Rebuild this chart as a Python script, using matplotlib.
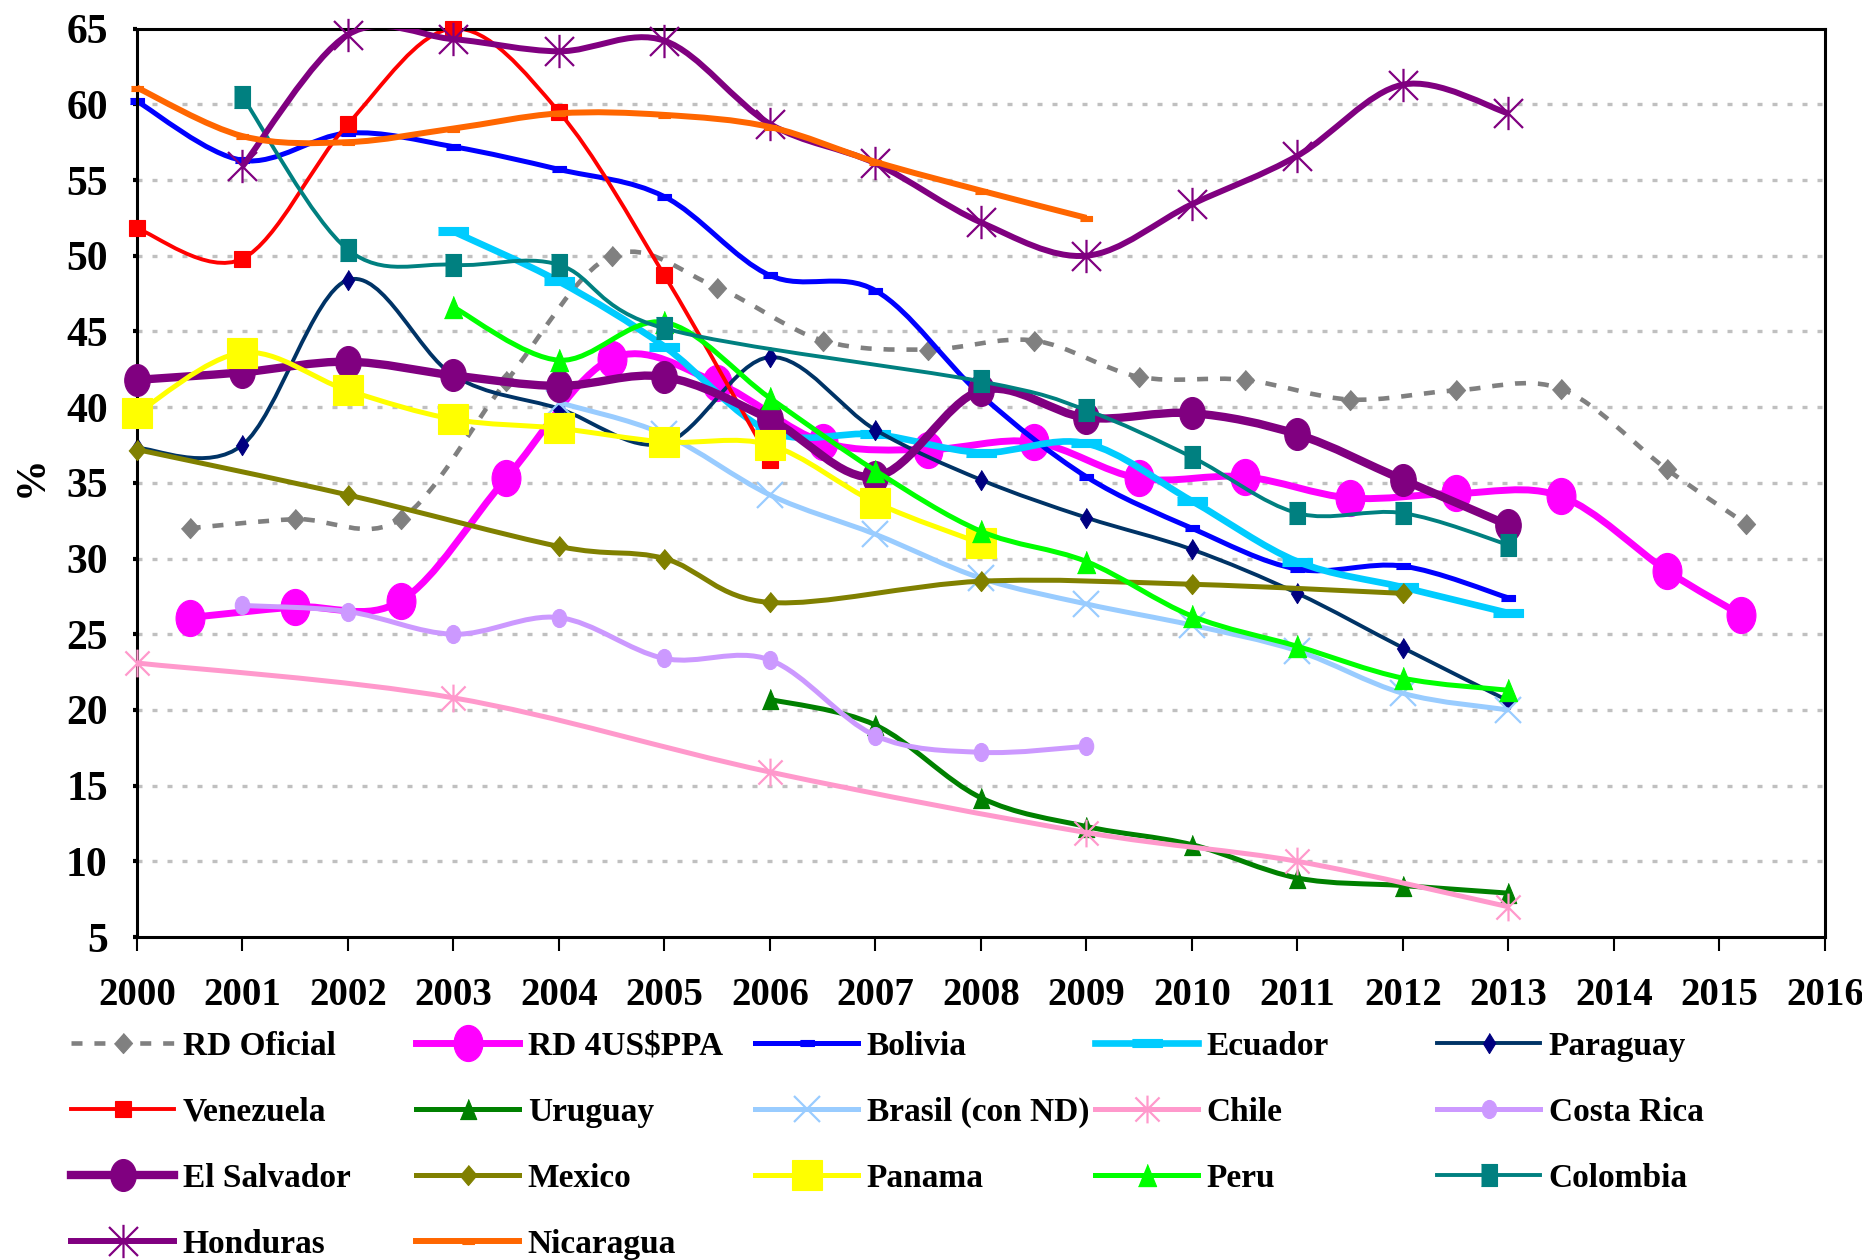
import numpy as np
import matplotlib
matplotlib.use("Agg")
import matplotlib.pyplot as plt
from matplotlib.path import Path
from matplotlib.patches import PathPatch
from matplotlib.lines import Line2D
from matplotlib.transforms import Affine2D

plt.rcParams['font.family'] = ['Liberation Serif', 'DejaVu Serif']
plt.rcParams['font.weight'] = 'bold'

# ---- data (% of population) ----
years_rd = [2000.5, 2001.5, 2002.5, 2003.5, 2004.5, 2005.5, 2006.5, 2007.5,
            2008.5, 2009.5, 2010.5, 2011.5, 2012.5, 2013.5, 2014.5, 2015.25]
rd_oficial = [32.0, 32.6, 32.6, 41.7, 50.0, 47.9, 44.4, 43.8,
              44.4, 42.0, 41.8, 40.5, 41.1, 41.2, 35.9, 32.3]
years_rd_ppa = [2000.5, 2001.5, 2002.5, 2003.5, 2004.5, 2005.5, 2006.5, 2007.5,
                2008.5, 2009.5, 2010.5, 2011.5, 2012.5, 2013.5, 2014.5, 2015.2]
rd_ppa = [26.1, 26.8, 27.2, 35.3, 43.2, 41.6, 37.7, 37.2,
          37.7, 35.3, 35.4, 34.0, 34.3, 34.1, 29.2, 26.3]
years_bolivia = list(range(2000, 2014))
bolivia = [60.2, 56.3, 58.1, 57.2, 55.7, 53.9, 48.7, 47.7, 40.8, 35.4, 32.0, 29.3, 29.5, 27.4]
years_ecuador = list(range(2003, 2014))
ecuador = [51.6, 48.3, 44.0, 38.4, 38.2, 37.0, 37.6, 33.8, 29.8, 28.1, 26.4]
years_paraguay = list(range(2000, 2014))
paraguay = [37.3, 37.5, 48.4, 42.1, 39.9, 37.6, 43.3, 38.5, 35.2, 32.7, 30.6, 27.7, 24.1, 20.6]
years_venezuela = list(range(2000, 2007))
venezuela = [51.8, 49.8, 58.7, 65.0, 59.5, 48.7, 36.5]
years_uruguay = list(range(2006, 2014))
uruguay = [20.7, 19.0, 14.2, 12.3, 11.1, 8.9, 8.4, 7.9]
years_brasil = list(range(2004, 2014))
brasil = [40.3, 38.2, 34.2, 31.6, 28.7, 27.0, 25.6, 23.9, 21.1, 20.0]
years_chile = [2000, 2003, 2006, 2009, 2011, 2013]
chile = [23.1, 20.8, 15.9, 11.9, 10.0, 7.0]
years_costa_rica = list(range(2001, 2010))
costa_rica = [26.9, 26.5, 25.0, 26.1, 23.4, 23.3, 18.3, 17.2, 17.6]
years_el_salvador = list(range(2000, 2014))
el_salvador = [41.8, 42.3, 43.0, 42.1, 41.4, 42.0, 39.2, 35.4, 41.1, 39.3, 39.6, 38.2, 35.2, 32.2]
years_mexico = [2000, 2002, 2004, 2005, 2006, 2008, 2010, 2012]
mexico = [37.2, 34.2, 30.8, 30.0, 27.1, 28.5, 28.3, 27.7]
years_panama = list(range(2000, 2009))
panama = [39.6, 43.6, 41.1, 39.2, 38.6, 37.7, 37.5, 33.7, 31.0]
years_peru = list(range(2003, 2014))
peru = [46.6, 43.1, 45.6, 40.6, 35.8, 31.8, 29.8, 26.2, 24.2, 22.1, 21.3]
years_colombia = [2001, 2002, 2003, 2004, 2005, 2008, 2009, 2010, 2011, 2012, 2013]
colombia = [60.5, 50.4, 49.4, 49.4, 45.2, 41.7, 39.8, 36.7, 33.0, 33.0, 30.9]
years_honduras = list(range(2001, 2014))
honduras = [55.9, 64.6, 64.3, 63.5, 64.2, 58.7, 56.1, 52.2, 50.0, 53.4, 56.6, 61.3, 59.4]
years_nicaragua = list(range(2000, 2010))
nicaragua = [61.1, 57.9, 57.5, 58.4, 59.4, 59.3, 58.5, 56.2, 54.3, 52.5]

# ---- marker shapes (the original chart is a bit squeezed horizontally) ----
star = Path([(-1, -1), (1, 1), (-1, 1), (1, -1), (0, -1.15), (0, 1.15)],
            [Path.MOVETO, Path.LINETO] * 3)
ellipse = Path.unit_circle().transformed(Affine2D().scale(0.8, 1.0))
tall_rect = [(-0.73, -1), (0.73, -1), (0.73, 1), (-0.73, 1)]
def diamond(w):
    return [(0, 1), (w, 0), (0, -1), (-w, 0)]
def dash(h):
    return [(-1, -h), (1, -h), (1, h), (-1, h)]
tri = [(0, 1), (0.82, -1), (-0.82, -1)]

# label, x, y, colour, line width, marker, marker size, extra
series = [
    ("RD Oficial", years_rd, rd_oficial, "#808080", 3.3, diamond(0.9), 14.5, {"ls": (0, (2.4, 2.6))}),
    ("RD 4US$PPA", years_rd_ppa, rd_ppa, "#FF00FF", 5.0, ellipse, 26, {}),
    ("Bolivia", years_bolivia, bolivia, "#0000FF", 3.6, dash(0.4), 10, {}),
    ("Ecuador", years_ecuador, ecuador, "#00CCFF", 4.8, dash(0.26), 22, {}),
    ("Paraguay", years_paraguay, paraguay, "#003366", 2.8, diamond(0.62), 14.5, {"mc": "#000080"}),
    ("Venezuela", years_venezuela, venezuela, "#FF0000", 2.8, "s", 12, {}),
    ("Uruguay", years_uruguay, uruguay, "#008000", 3.6, tri, 14.5, {}),
    ("Brasil (con ND)", years_brasil, brasil, "#99CCFF", 3.6, "x", 19, {"open": True}),
    ("Chile", years_chile, chile, "#FF99CC", 3.6, star, 20, {"open": True}),
    ("Costa Rica", years_costa_rica, costa_rica, "#CC99FF", 3.6, ellipse, 13, {}),
    ("El Salvador", years_el_salvador, el_salvador, "#800080", 6.0, ellipse, 23, {}),
    ("Mexico", years_mexico, mexico, "#808000", 3.6, diamond(0.85), 14.5, {}),
    ("Panama", years_panama, panama, "#FFFF00", 3.6, "s", 21, {}),
    ("Peru", years_peru, peru, "#00FF00", 3.6, tri, 16, {}),
    ("Colombia", years_colombia, colombia, "#008080", 2.8, tall_rect, 16, {}),
    ("Honduras", years_honduras, honduras, "#800080", 4.3, star, 24, {"open": True}),
    ("Nicaragua", years_nicaragua, nicaragua, "#FF6600", 4.3, dash(0.45), 8, {}),
]


def smooth_path(x, y):
    # excel style smoothed line: cubic bezier through every data point
    pts = np.column_stack([x, y]).astype(float)
    n = len(pts)
    verts = [pts[0]]
    codes = [Path.MOVETO]
    for i in range(n - 1):
        p0 = pts[i - 1] if i > 0 else pts[i]
        p1 = pts[i]
        p2 = pts[i + 1]
        p3 = pts[i + 2] if i + 2 < n else pts[i + 1]
        verts += [p1 + (p2 - p0) / 6.0, p2 - (p3 - p1) / 6.0, p2]
        codes += [Path.CURVE4] * 3
    return Path(verts, codes)


fig = plt.figure(figsize=(18.62, 12.6), dpi=100)
ax = fig.add_axes([0.0639, 0.2563, 0.9162, 0.7210])

yticks = np.arange(5, 70, 5)
ax.hlines(yticks[1:-1], 2000, 2016, colors="#C0C0C0", linewidth=2.4,
          linestyles=(0, (1.5, 3.0)), zorder=0.5)

handles = []
labels = []
for i, (label, xs, ys, color, lw, marker, ms, extra) in enumerate(series):
    z = 2 + i * 0.1
    ls = extra.get("ls", "-")
    mc = extra.get("mc", color)
    is_open = extra.get("open", False)
    ax.add_patch(PathPatch(smooth_path(xs, ys), facecolor="none", edgecolor=color,
                           lw=lw, linestyle=ls, capstyle="butt", joinstyle="round",
                           zorder=z))
    mstyle = dict(marker=marker, markersize=ms,
                  markerfacecolor="none" if is_open else mc,
                  markeredgecolor=mc, markeredgewidth=1.6 if is_open else 0.8)
    ax.plot(xs, ys, linestyle="none", zorder=z + 0.05, clip_on=False, **mstyle)
    handles.append(Line2D([], [], color=color, lw=lw, linestyle=ls,
                          dash_capstyle="butt", **mstyle))
    labels.append(label)

ax.set_xlim(1999.83, 2016)
ax.set_ylim(5, 65)
ax.set_xticks(range(2000, 2017))
ax.set_yticks(yticks)
ax.tick_params(axis="x", direction="out", length=10, width=1.5, pad=19, labelsize=28)
ax.tick_params(axis="y", direction="out", length=3, width=3, pad=18, labelsize=30)

for sp in ax.spines.values():
    sp.set_linewidth(2.2)
    sp.set_color("black")
ax.spines["left"].set_position(("data", 2000))
ax.spines["top"].set_bounds(2000, 2016)
ax.spines["bottom"].set_bounds(2000, 2016)

fig.text(0.017, 0.622, "%", rotation=90, fontsize=30, ha="center", va="center")

# legend: five columns, filled row by row like the original
col_x = [71, 416, 755, 1095, 1437]
for j in range(5):
    fig.legend(handles[j::5], labels[j::5], loc="upper left",
               bbox_to_anchor=(col_x[j] / 1862, 0.182), frameon=False,
               fontsize=24, handlelength=3.1, handletextpad=0.25,
               labelspacing=1.05, borderpad=0, borderaxespad=0, numpoints=1)

fig.savefig("out.png", dpi=100, facecolor="white")
